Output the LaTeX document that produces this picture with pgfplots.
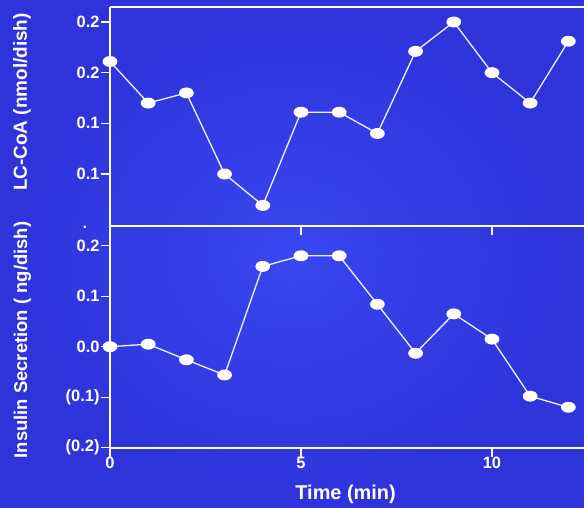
\documentclass[border=0pt]{standalone}
\usepackage{fontspec}
\setmainfont{Liberation Sans}
\usepackage{pgfplots}
\usepackage{pgfplotstable}
\pgfplotsset{compat=1.18}

\definecolor{bgouter}{HTML}{2E33DA}
\definecolor{bginner}{HTML}{3A46F0}
\definecolor{linewhite}{HTML}{F2F2FC}

% LC-CoA content (nmol/dish) over time
\pgfplotstableread{
t   lccoa
0   0.211
1   0.170
2   0.180
3   0.100
4   0.069
5   0.161
6   0.161
7   0.140
8   0.221
9   0.250
10  0.200
11  0.170
12  0.231
}\lccoadata

% insulin secretion (ng/dish) over time
\pgfplotstableread{
t   ins
0   0.000
1   0.005
2   -0.026
3   -0.056
4   0.159
5   0.180
6   0.180
7   0.084
8   -0.013
9   0.065
10  0.015
11  -0.098
12  -0.120
}\insdata

\pgfplotsset{
  panel/.style={
    scale only axis,
    width=474bp,
    xmin=0, xmax=12.41,
    clip=false,
    axis x line*=box,
    axis y line*=left,
    axis line style={draw=white, line width=1.6bp, -},
    xtick={0,5,10},
    xtick pos=bottom,
    ytick pos=left,
    tick align=outside,
    major tick length=9bp,
    major tick style={draw=white, line width=1.2bp},
    /pgf/number format/assume math mode=true,
    ticklabel style={text=white, font=\bfseries\fontsize{16.5}{16.5}\selectfont},
    yticklabel style={xshift=2bp},
    xticklabel style={yshift=3bp},
    label style={text=white},
  },
  wline/.style={
    color=linewhite, line width=1.3bp,
    mark=*, mark size=4.8bp,
    mark options={fill=white, draw=white, xscale=1.4},
  },
}

\begin{document}
\begin{tikzpicture}[x=1bp,y=1bp]
\useasboundingbox (0,0) rectangle (584,508);
\shade[inner color=bginner, outer color=bgouter] (0,0) rectangle (584,508);

% upper panel
\begin{axis}[panel,
  at={(110bp,282bp)}, anchor=south west,
  height=219bp,
  ymin=0.0487, ymax=0.2648,
  ytick={0.10,0.15,0.20,0.25},
  yticklabels={0.1,0.1,0.2,0.2},
  xticklabels={},
  ylabel={LC-CoA (nmol/dish)},
  ylabel style={at={(axis description cs:-0.1857,0.566)}, anchor=center,
    font=\bfseries\fontsize{19}{19}\selectfont},
]
\addplot[wline] table[x=t, y=lccoa] {\lccoadata};
\end{axis}

% lower panel
\begin{axis}[panel,
  at={(110bp,60bp)}, anchor=south west,
  height=222bp,
  ymin=-0.2006, ymax=0.239,
  ytick={-0.2,-0.1,0,0.1,0.2},
  yticklabels={(0.2),(0.1),0.0,0.1,0.2},
  xticklabels={0,5,10},
  xlabel={Time (min)},
  xlabel style={at={(axis description cs:0.497,-0.21)}, anchor=center,
    font=\bfseries\fontsize{20}{20}\selectfont},
  ylabel={Insulin Secretion ( ng/dish)},
  ylabel style={at={(axis description cs:-0.1846,0.486)}, anchor=center,
    font=\bfseries\fontsize{18.5}{18.5}\selectfont},
]
\addplot[wline] table[x=t, y=ins] {\insdata};
\end{axis}

\node[text=white, font=\bfseries\fontsize{15}{15}\selectfont, inner sep=0pt] at (85,281) {.};
\end{tikzpicture}
\end{document}
